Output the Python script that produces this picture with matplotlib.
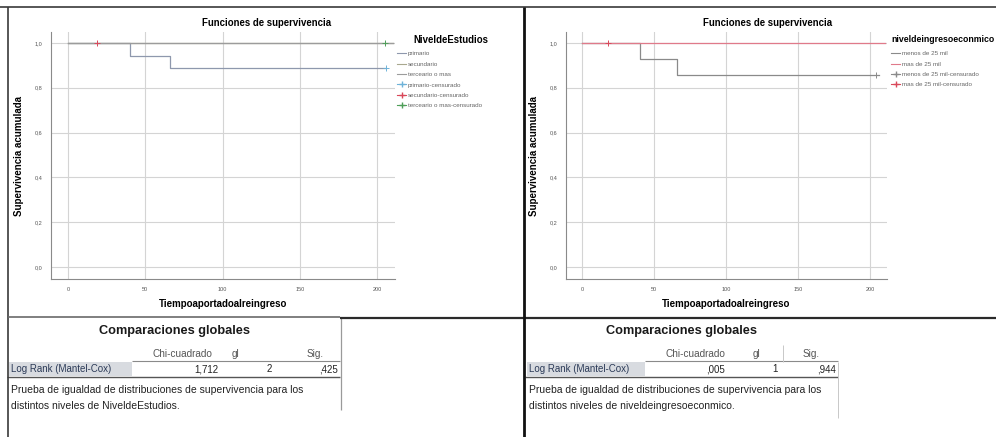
import matplotlib
matplotlib.use("Agg")
import matplotlib.pyplot as plt
from matplotlib.lines import Line2D
from matplotlib.patches import Rectangle

plt.rcParams['font.family'] = ['Liberation Sans', 'DejaVu Sans']

# ---- data ----
x_ticks = [0, 50, 100, 150, 200]
y_ticks = [0.0, 0.2, 0.4, 0.6, 0.8, 1.0]
y_tick_labels = ["0,0", "0,2", "0,4", "0,6", "0,8", "1,0"]

# left chart: NiveldeEstudios
edu_groups = ["primario", "secundario", "terceario o mas"]
edu_times = [[0, 40, 66, 206], [0, 210], [0, 210]]
edu_surv = [[1.0, 0.944, 0.889, 0.889], [1.0, 1.0], [1.0, 1.0]]
edu_cens_t = [[206], [19], [205]]
edu_cens_s = [[0.889], [1.0], [1.0]]
edu_colors = ["#8e98ad", "#a9a88f", "#9c9c9c"]
edu_cens_colors = ["#6fb3d9", "#d9485a", "#4f9f5a"]

# right chart: niveldeingresoeconmico
inc_groups = ["menos de 25 mil", "mas de 25 mil"]
inc_times = [[0, 40, 66, 206], [0, 210]]
inc_surv = [[1.0, 0.929, 0.857, 0.857], [1.0, 1.0]]
inc_cens_t = [[204], [18]]
inc_cens_s = [[0.857], [1.0]]
inc_colors = ["#8a8a8a", "#e07a8a"]
inc_cens_colors = ["#8a8a8a", "#d9485a"]

# tables
test_name = "Log Rank (Mantel-Cox)"
col_heads = ["Chi-cuadrado", "gl", "Sig."]
edu_stats = ["1,712", "2", ",425"]
inc_stats = [",005", "1", ",944"]
note_1 = "Prueba de igualdad de distribuciones de supervivencia para los"
edu_note_2 = "distintos niveles de NiveldeEstudios."
inc_note_2 = "distintos niveles de niveldeingresoeconmico."

W, H = 996, 437
fig = plt.figure(figsize=(W / 100, H / 100), dpi=100)
fig.patch.set_facecolor("white")


def fx(x):
    return x / W


def fy(y):
    return 1 - y / H


def hline(x0, x1, y, color, lw):
    fig.add_artist(Line2D([fx(x0), fx(x1)], [fy(y), fy(y)], transform=fig.transFigure,
                          color=color, lw=lw, solid_capstyle="butt"))


def vline(x, y0, y1, color, lw):
    fig.add_artist(Line2D([fx(x), fx(x)], [fy(y0), fy(y1)], transform=fig.transFigure,
                          color=color, lw=lw, solid_capstyle="butt"))


def survival_chart(left, right, times, survs, colors, cens_t, cens_s, cens_colors,
                   groups, legend_title, title_x, leg_x, text_x, leg_title_size):
    ax = fig.add_axes([fx(left), fy(279), (right - left) / W, (279 - 32) / H])
    for t, s, c in zip(times, survs, colors):
        ax.step(t, s, where="post", color=c, lw=0.9)
    for t, s, c in zip(cens_t, cens_s, cens_colors):
        ax.plot(t, s, "+", color=c, ms=4, mew=0.7)
    ax.set_xlim(-11, 211.5)
    ax.set_ylim(-0.054, 1.049)
    ax.set_xticks(x_ticks)
    ax.set_xticklabels([str(v) for v in x_ticks])
    ax.set_yticks(y_ticks)
    ax.set_yticklabels(y_tick_labels)
    ax.tick_params(length=0, labelsize=4, colors="#555555", pad=6)
    ax.grid(True, color="#d4d4d4", lw=0.8)
    ax.set_axisbelow(True)
    for side in ["top", "right"]:
        ax.spines[side].set_visible(False)
    for side in ["left", "bottom"]:
        ax.spines[side].set_color("#8a8a8a")
        ax.spines[side].set_linewidth(0.8)
    ax.set_xlabel("Tiempoaportadoalreingreso", fontsize=7.0, fontweight="bold", labelpad=5)
    ax.set_ylabel("Supervivencia acumulada", fontsize=7.0, fontweight="bold", labelpad=8)
    fig.text(fx(title_x), fy(23), "Funciones de supervivencia", fontsize=6.9,
             fontweight="bold", ha="center", va="center")
    fig.text(fx(text_x), fy(40), legend_title, fontsize=leg_title_size, fontweight="bold",
             ha="left", va="center")
    handles = [Line2D([], [], color=c, lw=0.8) for c in colors]
    handles += [Line2D([], [], color=c, lw=0.8, marker="+", ms=4) for c in cens_colors]
    labels = groups + [g + "-censurado" for g in groups]
    ax.legend(handles, labels, loc="upper left", bbox_to_anchor=(fx(leg_x), fy(51)),
              bbox_transform=fig.transFigure, frameon=False, fontsize=4.5,
              handlelength=1.5, handletextpad=0.2, labelspacing=0.8,
              borderpad=0, borderaxespad=0, labelcolor="#666666")
    return ax


survival_chart(51, 395, edu_times, edu_surv, edu_colors, edu_cens_t, edu_cens_s,
               edu_cens_colors, edu_groups, "NiveldeEstudios", 267, 397, 413, 6.9)
survival_chart(566, 887, inc_times, inc_surv, inc_colors, inc_cens_t, inc_cens_s,
               inc_cens_colors, inc_groups, "niveldeingresoeconmico", 768, 891, 891, 6.3)


def stats_table(x0, title_x, head_x, val_right, band_right, right_line, stats, note_2):
    fig.text(fx(title_x), fy(331), "Comparaciones globales", fontsize=9.2,
             fontweight="bold", ha="center", va="center", color="#1a1a1a")
    for hx, h in zip(head_x, col_heads):
        fig.text(fx(hx), fy(354), h, fontsize=7.2, ha="center", va="center", color="#555555")
    hline(band_right, right_line, 361, "#8a8a8a", 0.8)
    fig.add_artist(Rectangle((fx(x0), fy(376)), (band_right - x0) / W, 14 / H,
                             transform=fig.transFigure, facecolor="#d8dbe0", edgecolor="none"))
    fig.text(fx(x0 + 2), fy(369), test_name, fontsize=7.0, ha="left", va="center",
             color="#2c3b58")
    for vx, v in zip(val_right, stats):
        fig.text(fx(vx), fy(369), v, fontsize=7.0, ha="right", va="center", color="#222222")
    hline(x0 - 2, right_line, 377, "#555555", 1.0)
    fig.text(fx(x0 + 2), fy(390), note_1, fontsize=7.5, ha="left", va="center", color="#222222")
    fig.text(fx(x0 + 2), fy(406), note_2, fontsize=7.5, ha="left", va="center", color="#222222")


stats_table(9, 174, [182, 235, 315], [218, 272, 338], 132, 340, edu_stats, edu_note_2)
stats_table(527, 681, [695, 756, 811], [725, 778, 836], 645, 838, inc_stats, inc_note_2)
vline(341, 318, 410, "#9a9a9a", 0.9)
vline(783, 345, 362, "#c8c8c8", 0.7)
vline(838, 362, 418, "#c8c8c8", 0.7)

# panel frames
hline(0, W, 7, "#3a3a3a", 1.2)
vline(8, 7, H, "#3a3a3a", 1.2)
hline(8, 340, 317, "#6a6a6a", 1.2)
hline(340, W, 318, "#2a2a2a", 1.6)
vline(524, 7, H, "#111111", 2.0)

fig.savefig("out.png", dpi=100, facecolor="white")
